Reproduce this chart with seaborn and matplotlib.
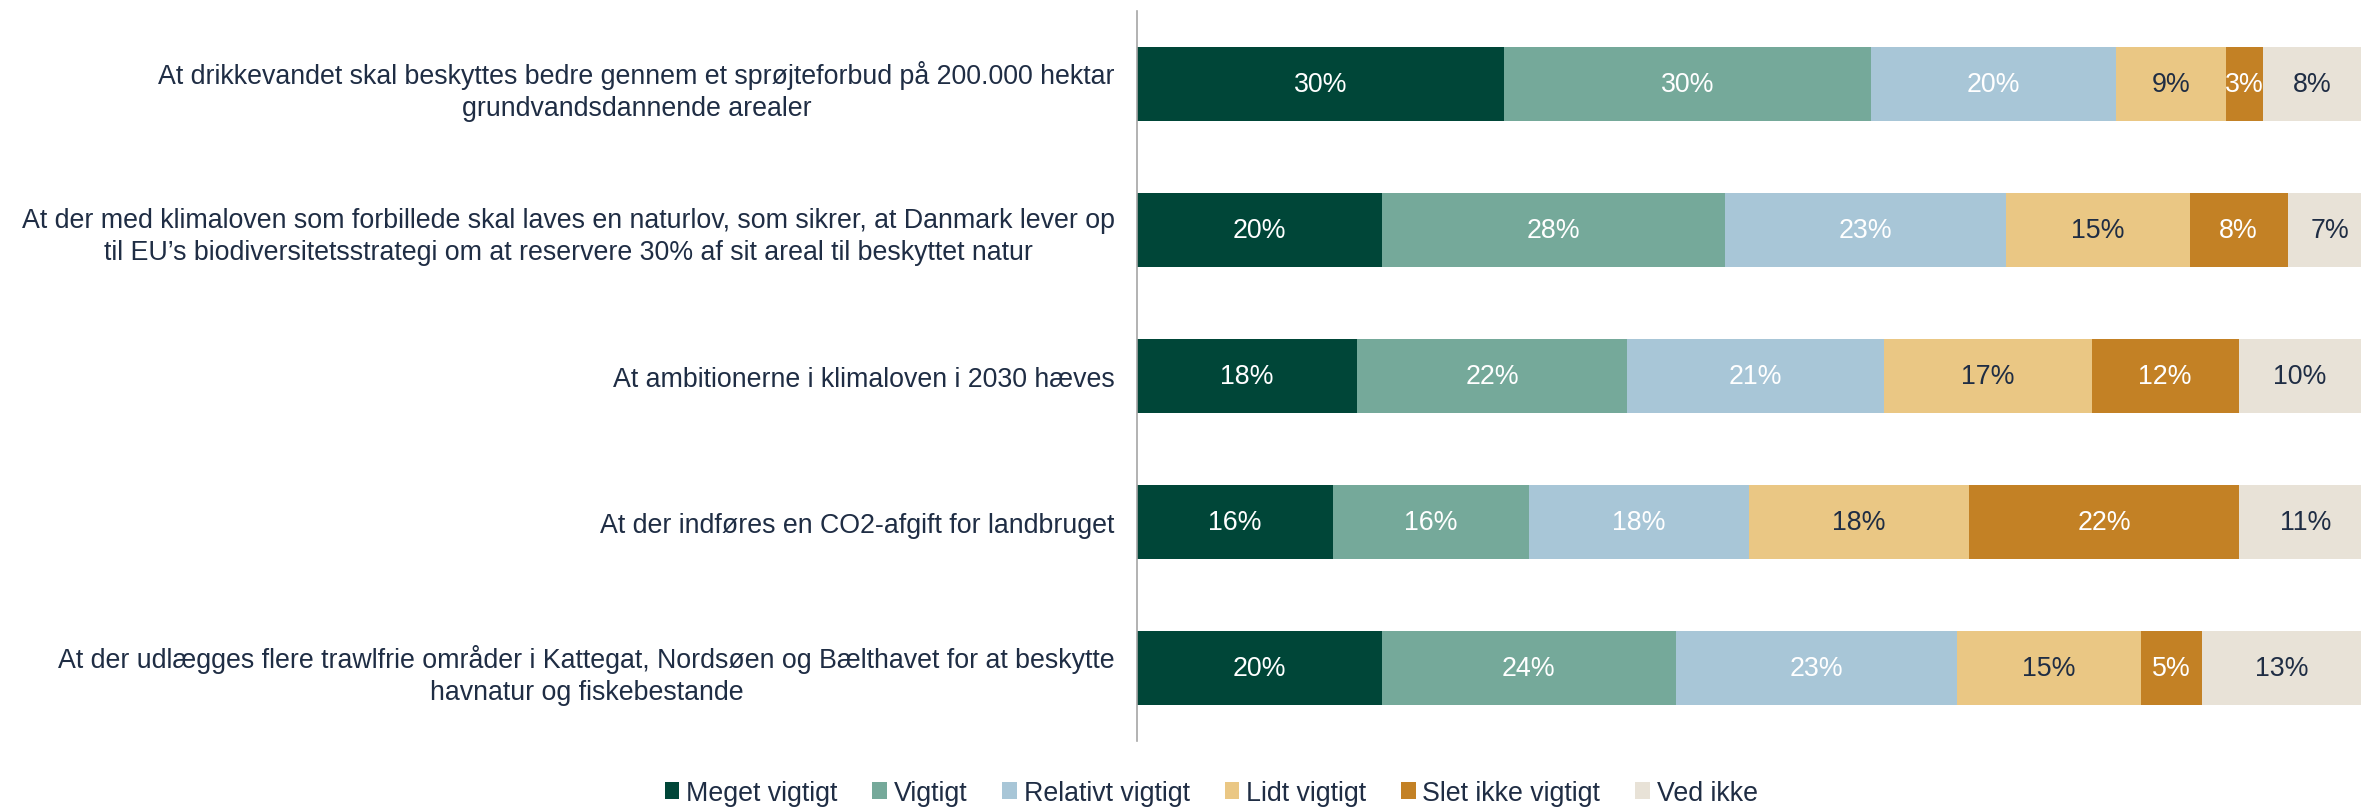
import numpy as np
import pandas as pd
import matplotlib
matplotlib.use('Agg')
import matplotlib.pyplot as plt
import seaborn as sns
from matplotlib.patches import Patch

# --- data ---
questions = [
    "At drikkevandet skal beskyttes bedre gennem et sprøjteforbud på 200.000 hektar\ngrundvandsdannende arealer",
    "At der med klimaloven som forbillede skal laves en naturlov, som sikrer, at Danmark lever op\ntil EU’s biodiversitetsstrategi om at reservere 30% af sit areal til beskyttet natur",
    "At ambitionerne i klimaloven i 2030 hæves",
    "At der indføres en CO2-afgift for landbruget",
    "At der udlægges flere trawlfrie områder i Kattegat, Nordsøen og Bælthavet for at beskytte\nhavnatur og fiskebestande",
]
categories = ["Meget vigtigt", "Vigtigt", "Relativt vigtigt", "Lidt vigtigt",
              "Slet ikke vigtigt", "Ved ikke"]
meget = [30, 20, 18, 16, 20]
vigtigt = [30, 28, 22, 16, 24]
relativt = [20, 23, 21, 18, 23]
lidt = [9, 15, 17, 18, 15]
slet = [3, 8, 12, 22, 5]
ved_ikke = [8, 7, 10, 11, 13]

colors = ["#004638", "#75A99A", "#A8C6D7", "#EAC784", "#C38125", "#E8E2D7"]
text_colors = ["white", "white", "white", "#1F2D44", "white", "#1F2D44"]
navy = "#1F2D44"
fs = 19.3

df = pd.DataFrame({"spm": questions})
for cat, vals in zip(categories, [meget, vigtigt, relativt, lidt, slet, ved_ikke]):
    df[cat] = vals
cum = df[categories].cumsum(axis=1)

sns.set_theme(style="white")
plt.rcParams['font.family'] = ['Liberation Sans', 'DejaVu Sans']

fig = plt.figure(figsize=(23.61, 8.12), dpi=100)
ax = fig.add_axes([0.4816, 0.086, 0.5184, 0.899])

# stacked bars: draw cumulative totals from widest to narrowest
for cat, col in reversed(list(zip(categories, colors))):
    sns.barplot(x=cum[cat], y=df["spm"], color=col, orient="h", width=0.51,
                linewidth=0, saturation=1, ax=ax)

# value labels
for i in range(len(df)):
    for j, cat in enumerate(categories):
        v = df.loc[i, cat]
        mid = cum.loc[i, cat] - v / 2
        ax.text(mid, i, f"{v}%", ha="center", va="center", fontsize=fs,
                color=text_colors[j])

ax.set_xlim(0, 100)
ax.set_ylim(4.5, -0.5)
ax.set_xlabel("")
ax.set_ylabel("")
ax.set_xticks([])
ax.tick_params(axis="y", length=0, pad=16, labelsize=fs, labelcolor=navy)
for lab in ax.get_yticklabels():
    lab.set_multialignment("center")
    lab.set_linespacing(1.3)
for s in ["top", "right", "bottom"]:
    ax.spines[s].set_visible(False)
ax.spines["left"].set_color("#A6A6A6")
ax.spines["left"].set_linewidth(1.2)

handles = [Patch(facecolor=c, edgecolor="none", label=l) for c, l in zip(colors, categories)]
fig.legend(handles=handles, loc="center", bbox_to_anchor=(0.513, 0.022), ncol=6,
           frameon=False, fontsize=fs, labelcolor=navy, handlelength=0.55,
           handleheight=0.6, handletextpad=0.25, columnspacing=1.3)

fig.savefig("out.png", dpi=100)
